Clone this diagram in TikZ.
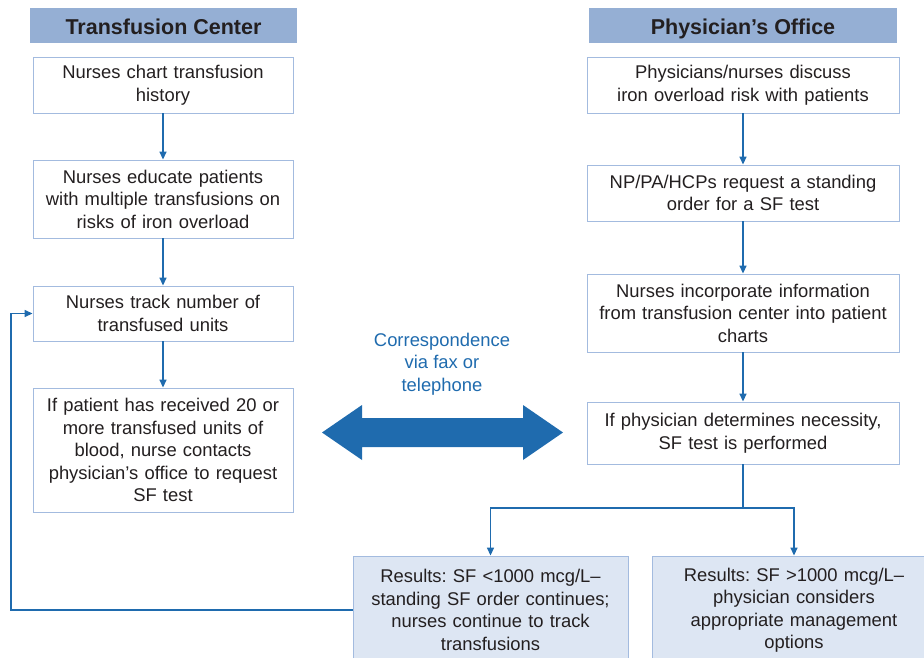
\documentclass[tikz,border=0pt]{standalone}
\usepackage{fontspec}
\setmainfont{Liberation Sans}
\usetikzlibrary{arrows.meta}
\definecolor{hdrblue}{HTML}{95AFD4}
\definecolor{edgeblue}{HTML}{A3BBDF}
\definecolor{resblue}{HTML}{DDE6F3}
\definecolor{arrblue}{HTML}{1F6BAE}
\definecolor{txtgray}{HTML}{231F20}
\frenchspacing
\begin{document}
\begin{tikzpicture}[x=1pt,y=-1pt]
\tikzstyle{header} = [fill=hdrblue, inner sep=0pt, text=txtgray, text height=18pt, text depth=0pt,
  font=\fontsize{21.5}{23}\selectfont\bfseries, minimum height=35pt]
\tikzstyle{stepbox} = [draw=edgeblue, line width=0.9pt, fill=white, inner sep=0pt,
  align=center, text=txtgray, font=\fontsize{18.4}{22.5}\selectfont]
\tikzstyle{leftbox} = [stepbox, minimum width=260pt, text width=252pt]
\tikzstyle{rightbox} = [stepbox, minimum width=312pt, text width=304pt]
\tikzstyle{resbox} = [stepbox, fill=resblue, minimum height=108pt]
\tikzstyle{arr} = [draw=arrblue, line width=1.5pt, -{Triangle[length=8pt,width=7pt]}]
\useasboundingbox (0,0) rectangle (924,657);
% column headers
\node[header, minimum width=267pt] (tchead) at (163.5,25.5) {Transfusion Center};
\node[header, minimum width=308pt] (pohead) at (743,25.5) {Physician’s Office};
% transfusion center
\node[leftbox, minimum height=56pt] (chart) at (163,85)
  {Nurses chart transfusion\\history};
\node[leftbox, minimum height=78pt] (educate) at (163,199)
  {Nurses educate patients\\with multiple transfusions on\\risks of iron overload};
\node[leftbox, minimum height=55pt] (track) at (163,313.5)
  {Nurses track number of\\transfused units};
\node[leftbox, minimum height=124pt] (contact) at (163,450)
  {If patient has received 20 or\\more transfused units of\\blood, nurse contacts\\physician’s office to request\\SF test};
% physician's office
\node[rightbox, minimum height=56pt] (discuss) at (743,85)
  {Physicians/nurses discuss\\iron overload risk with patients};
\node[rightbox, minimum height=56pt] (order) at (743,193)
  {NP/PA/HCPs request a standing\\order for a SF test};
\node[rightbox, minimum height=78pt] (incorp) at (743,313)
  {Nurses incorporate information\\from transfusion center into patient\\charts};
\node[rightbox, minimum height=62pt] (perf) at (743,433)
  {If physician determines necessity,\\SF test is performed};
% results
\node[resbox, minimum width=275pt, text width=267pt] (low) at (490.5,610)
  {Results: SF <1000 mcg/L–\\standing SF order continues;\\nurses continue to track\\transfusions};
\node[resbox, minimum width=284pt, text width=276pt] (high) at (794,610)
  {Results: SF >1000 mcg/L–\\physician considers\\appropriate management\\options};
% correspondence
\node[text=arrblue, align=center, font=\fontsize{18.4}{22.5}\selectfont] (corr) at (442,364)
  {Correspondence\\via fax or\\telephone};
\fill[arrblue] (322,432.5) -- (362,405) -- (362,418) -- (523,418) -- (523,405)
  -- (563,432.5) -- (523,460) -- (523,447) -- (362,447) -- (362,460) -- cycle;
% connectors
\draw[arr] (chart) -- (educate);
\draw[arr] (educate) -- (track);
\draw[arr] (track) -- (contact);
\draw[arr] (discuss) -- (order);
\draw[arr] (order) -- (incorp);
\draw[arr] (incorp) -- (perf);
\coordinate (split) at (743,508);
\coordinate (back) at (11,0);
\draw[draw=arrblue, line width=1.5pt] (perf) -- (split);
\draw[arr] (split) -| (low.north);
\draw[arr] (split) -| (high.north);
\draw[arr] (low.west) -- (low.west -| back) -- (back |- track.west) -- (track.west);
\end{tikzpicture}
\end{document}
